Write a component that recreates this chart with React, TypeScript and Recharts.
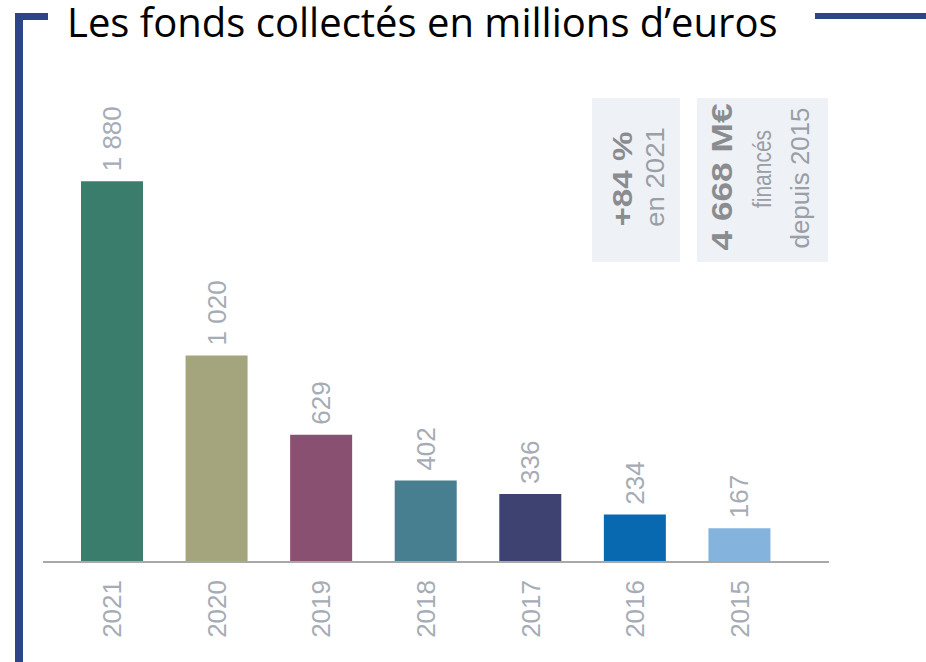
import { BarChart, Bar, XAxis, YAxis, Cell, LabelList } from 'recharts';

// années et montants collectés (M€)
const years = ['2021', '2020', '2019', '2018', '2017', '2016', '2015'];
const amounts = [1880, 1020, 629, 402, 336, 234, 167];
const barColors = ['#3a7d6c', '#a4a57c', '#8a5072', '#477e90', '#3d4270', '#0868b0', '#84b3de'];

const title = 'Les fonds collectés en millions d’euros';
const growthValue = '+84 %';
const growthNote = 'en 2021';
const totalValue = '4 668 M€';
const totalNote1 = 'financés';
const totalNote2 = 'depuis 2015';

const data = years.map((year, i) => ({ year, amount: amounts[i] }));

const frameBlue = '#2b4587';
const lightText = '#a6acb6';

const formatAmount = (v: number) => (v >= 1000 ? `${Math.floor(v / 1000)} ${String(v % 1000).padStart(3, '0')}` : String(v));

const YearTick = (props: any) => {
  const { x, y, payload } = props;
  return (
    <text
      x={x}
      y={y + 10}
      transform={`rotate(-90, ${x}, ${y + 10})`}
      textAnchor="end"
      dominantBaseline="central"
      fontFamily="Liberation Sans, Arial, sans-serif"
      fontSize={26}
      fill={lightText}
    >
      {payload.value}
    </text>
  );
};

const ValueLabel = (props: any) => {
  const { x, y, width, value } = props;
  const cx = x + width / 2;
  const ty = y - 10;
  return (
    <text
      x={cx}
      y={ty}
      transform={`rotate(-90, ${cx}, ${ty})`}
      textAnchor="start"
      dominantBaseline="central"
      fontFamily="Liberation Sans, Arial, sans-serif"
      fontSize={26}
      fill={lightText}
    >
      {formatAmount(value)}
    </text>
  );
};

const Vtext = ({ cx, cy, children, size, bold, len, color }: any) => (
  <text
    x={cx}
    y={cy}
    transform={`rotate(-90, ${cx}, ${cy})`}
    textAnchor="middle"
    dominantBaseline="central"
    fontFamily="Liberation Sans, Arial, sans-serif"
    fontSize={size}
    fontWeight={bold ? 700 : 400}
    fill={color}
    textLength={len}
    lengthAdjust="spacingAndGlyphs"
  >
    {children}
  </text>
);

export default function App() {
  return (
    <div style={{ position: 'absolute', left: 0, top: 0, width: 926, height: 662, background: '#fff' }}>
      <BarChart
        width={926}
        height={662}
        data={data}
        margin={{ top: 76, left: 43, right: 97, bottom: 20 }}
      >
        <XAxis
          dataKey="year"
          height={80}
          padding={{ left: 17, right: 37 }}
          axisLine={{ stroke: '#a8a8a8', strokeWidth: 2 }}
          tickLine={false}
          tick={<YearTick />}
          interval={0}
        />
        <YAxis hide domain={[0, 2400]} />
        <Bar dataKey="amount" barSize={62} isAnimationActive={false}>
          {data.map((d, i) => (
            <Cell key={d.year} fill={barColors[i]} />
          ))}
          <LabelList dataKey="amount" content={<ValueLabel />} />
        </Bar>
      </BarChart>

      <svg width={926} height={662} style={{ position: 'absolute', left: 0, top: 0, pointerEvents: 'none' }}>
        {/* cadre */}
        <rect x={15} y={13} width={33} height={7} fill={frameBlue} />
        <rect x={15} y={13} width={8} height={649} fill={frameBlue} />
        <rect x={815} y={13} width={111} height={6} fill={frameBlue} />

        <text
          x={67}
          y={37}
          fontFamily="Open Sans, Noto Sans, sans-serif"
          fontSize={40}
          fill="#000"
        >
          {title}
        </text>

        {/* encadrés */}
        <rect x={592} y={98} width={88} height={164} fill="#eef2f7" />
        <rect x={697} y={98} width={131} height={164} fill="#eef2f7" />

        <Vtext cx={623} cy={179} size={27} bold len={95} color="#8a8c90">{growthValue}</Vtext>
        <Vtext cx={655} cy={177} size={26} len={100} color="#9a9ea5">{growthNote}</Vtext>

        <Vtext cx={722} cy={177} size={29} bold len={147} color="#8a8c90">{totalValue}</Vtext>
        <Vtext cx={762} cy={169} size={25} len={78} color="#9a9ea5">{totalNote1}</Vtext>
        <Vtext cx={800} cy={178} size={26} len={141} color="#9a9ea5">{totalNote2}</Vtext>
      </svg>
    </div>
  );
}
